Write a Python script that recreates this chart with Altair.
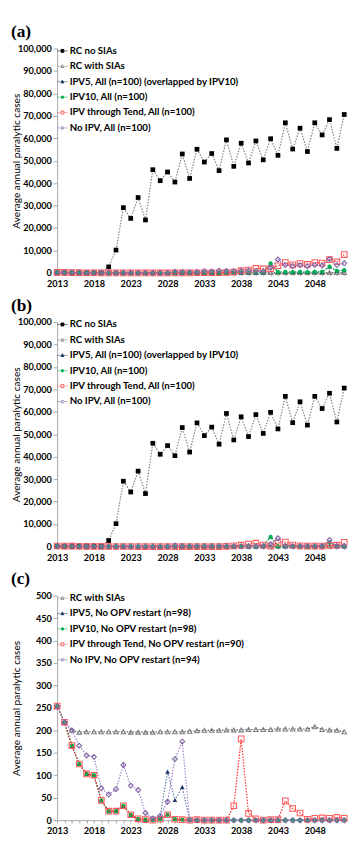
import altair as alt
import pandas as pd

YEARS = list(range(2013, 2053))

# ---------- data (2013 .. 2052) ----------
RC_NO_SIAS = [0, 0, 0, 0, 0, 0, 0, 2700, 10200, 29100, 24300, 33600, 23600, 46000, 41100, 45000,
              40500, 53000, 42100, 55100, 49400, 53200, 45600, 59300, 47500, 57800, 49000, 58800,
              50400, 59800, 52400, 66900, 55200, 64500, 54100, 66900, 61500, 68300, 55500, 70600]
RC_WITH_SIAS = [254, 218, 200, 196, 197, 197, 197, 197, 197, 197, 196, 196, 196, 196, 197, 197,
                197, 197, 198, 199, 200, 200, 200, 201, 201, 201, 202, 202, 202, 202, 203, 203,
                203, 203, 203, 208, 202, 201, 200, 197]

A_IPV5 = [254, 218, 166, 125, 103, 100, 44, 20, 20, 32, 12, 3, 1, 0, 2, 12, 2, 1, 0, 100,
          100, 100, 100, 100, 100, 150, 200, 200, 250, 4200, 400, 450, 400, 450, 400, 450,
          500, 2800, 900, 1200]
A_IPV10 = [254, 218, 166, 125, 103, 100, 44, 20, 20, 32, 12, 3, 1, 0, 2, 12, 2, 1, 0, 100,
           100, 100, 100, 100, 100, 150, 200, 200, 250, 4200, 400, 450, 400, 450, 400, 450,
           500, 2800, 900, 1200]
A_TEND = [254, 218, 166, 125, 103, 100, 44, 20, 20, 32, 12, 3, 1, 0, 2, 12, 2, 1, 0, 100,
          100, 100, 100, 200, 400, 1000, 1300, 2000, 1800, 1900, 3200, 4600, 3600, 4200, 3800,
          4600, 4400, 5900, 5000, 8200]
A_NOIPV = [254, 218, 200, 166, 144, 141, 71, 57, 69, 123, 77, 67, 16, 4, 10, 41, 500, 400,
           300, 400, 800, 700, 1000, 900, 800, 900, 1100, 900, 800, 2300, 6000, 3500, 3100,
           3400, 3000, 3500, 3300, 6200, 3500, 4300]

B_IPV5 = [254, 218, 166, 125, 103, 100, 44, 20, 20, 32, 12, 3, 1, 0, 2, 12, 2, 1, 0, 0,
          0, 0, 0, 0, 0, 50, 50, 50, 100, 4300, 100, 100, 100, 100, 100, 100, 200, 1900, 200, 100]
B_IPV10 = [254, 218, 166, 125, 103, 100, 44, 20, 20, 32, 12, 3, 1, 0, 2, 12, 2, 1, 0, 0,
           0, 0, 0, 0, 0, 50, 50, 50, 100, 4300, 100, 100, 100, 100, 100, 100, 200, 1900, 200, 100]
B_TEND = [254, 218, 166, 125, 103, 100, 44, 20, 20, 32, 12, 3, 1, 0, 2, 12, 2, 1, 0, 0,
          0, 0, 0, 100, 300, 600, 1100, 1500, 700, 200, 1600, 2000, 700, 300, 200, 200, 200,
          500, 600, 1900]
B_NOIPV = [254, 218, 200, 166, 144, 141, 71, 57, 69, 123, 77, 67, 16, 4, 10, 41, 500, 300,
           200, 200, 200, 200, 200, 200, 200, 200, 200, 200, 300, 1100, 3700, 300, 200, 200,
           200, 200, 300, 2900, 300, 300]

C_IPV5 = [254, 218, 166, 125, 103, 100, 44, 20, 20, 32, 12, 3, 1, 2, 8, 108, 45, 74, 1, 0,
          0, 0, 0, 0, 0, 0, 0, 0, 0, 0, 0, 0, 0, 0, 0, 0, 0, 0, 0, 0]
C_IPV10 = [254, 218, 166, 125, 103, 100, 44, 20, 20, 32, 12, 3, 1, 0, 2, 12, 2, 1, 0, 0,
           0, 0, 0, 0, 0, 0, 0, 0, 0, 0, 0, 0, 0, 0, 0, 0, 0, 0, 0, 0]
C_TEND = [254, 218, 166, 125, 103, 100, 44, 20, 20, 32, 12, 3, 1, 0, 2, 12, 2, 1, 0, 1,
          0, 0, 0, 0, 32, 181, 15, 3, 0, 1, 1, 43, 26, 16, 2, 4, 5, 4, 6, 4]
C_NOIPV = [254, 218, 200, 166, 144, 141, 71, 57, 69, 123, 77, 67, 16, 4, 10, 41, 136, 175,
           1, 0, 0, 0, 0, 0, 0, 0, 0, 0, 0, 0, 0, 0, 0, 0, 0, 0, 0, 0, 0, 0]

NAMES_AB = ["RC no SIAs", "RC with SIAs", "IPV5, All (n=100) (overlapped by IPV10)",
            "IPV10, All (n=100)", "IPV through Tend, All (n=100)", "No IPV, All (n=100)"]
NAMES_C = ["RC with SIAs", "IPV5, No OPV restart (n=98)", "IPV10, No OPV restart (n=98)",
           "IPV through Tend, No OPV restart (n=90)", "No IPV, No OPV restart (n=94)"]

Y_TICKS_AB = [0, 10000, 20000, 30000, 40000, 50000, 60000, 70000, 80000, 90000, 100000]
Y_TICKS_C = [0, 50, 100, 150, 200, 250, 300, 350, 400, 450, 500]
PANEL_LABELS = ["(a)", "(b)", "(c)"]

# ---------- styles ----------
FONT = "Lato"
DOTS = "M-1,0H-0.8M-0.6,0H-0.4M0.4,0H0.6M0.8,0H1"
STY = {
    "rcno": dict(line="#7f7f7f", shape="square", filled=True, color="#000000", size=24,
                 path=DOTS + "M-0.3,-0.3H0.3V0.3H-0.3Z", lfill="#000000"),
    "rcw": dict(line="#595959", shape="triangle-up", filled=False, color="#7f7f7f", size=22,
                path=DOTS + "M0,-0.33L0.3,0.25H-0.3Z", lfill="transparent"),
    "ipv5": dict(line="#5b7ba6", shape="triangle-up", filled=True, color="#1f3864", size=24,
                 path=DOTS + "M0,-0.33L0.3,0.25H-0.3Z", lfill="#1f3864"),
    "ipv10": dict(line="#00b050", shape="circle", filled=True, color="#00b050", size=20,
                  path=DOTS + "M-0.26,0A0.26,0.26,0,1,0,0.26,0A0.26,0.26,0,1,0,-0.26,0Z",
                  lfill="#00b050"),
    "tend": dict(line="#ff2020", shape="square", filled=False, color="#ff5b5b", size=34,
                 path=DOTS + "M-0.3,-0.3H0.3V0.3H-0.3Z", lfill="transparent"),
    "noipv": dict(line="#9a7fc8", shape="diamond", filled=False, color="#8064a2", size=26,
                  path=DOTS + "M0,-0.34L0.28,0L0,0.34L-0.28,0Z", lfill="transparent"),
}

W, H = 298, 233


def panel(label, names, values, keys, ymax, yticks, yfmt):
    rows = []
    for n, vals in zip(names, values):
        for yr, v in zip(YEARS, vals):
            rows.append({"year": yr, "value": v, "series": n})
    df = pd.DataFrame(rows)

    xenc = alt.X("year:Q", scale=alt.Scale(domain=[2013, 2052], nice=False, zero=False),
                 axis=alt.Axis(values=YEARS, format="d", title=None, grid=False,
                               labelExpr="(datum.value - 2013) % 5 == 0 ? datum.label : ''",
                               labelFlush=False, labelOverlap=False, tickSize=3,
                               tickColor="#a6a6a6", domainColor="#a6a6a6",
                               labelFont=FONT, labelFontWeight="bold", labelFontSize=9.5,
                               labelColor="#000000", labelPadding=3))
    yenc = alt.Y("value:Q", scale=alt.Scale(domain=[0, ymax], nice=False),
                 axis=alt.Axis(values=yticks, format=yfmt, grid=False,
                               title="Average annual paralytic cases", titleFont=FONT,
                               titleFontSize=10.5, titleFontWeight="normal", titleColor="#000000",
                               titleX=-37, tickSize=4, tickColor="#a6a6a6",
                               domainColor="#a6a6a6", labelFont=FONT, labelFontWeight="bold",
                               labelFontSize=9.5, labelColor="#000000", labelPadding=2))
    layers = []
    for n, k in zip(names, keys):
        s = STY[k]
        base = alt.Chart(df).transform_filter(alt.datum.series == n)
        layers.append(base.mark_line(color=s["line"], strokeDash=[1.5, 1.5], strokeWidth=1.2)
                      .encode(x=xenc, y=yenc))
        layers.append(base.mark_point(shape=s["shape"], size=s["size"], filled=s["filled"],
                                      color=s["color"], opacity=1, strokeWidth=1.1)
                      .encode(x=xenc, y=yenc))
    leg_props = dict(title=None, orient="none", legendX=0, legendY=-3, labelFont=FONT,
                     labelFontWeight="bold", labelFontSize=10, labelColor="#000000",
                     labelLimit=400, symbolSize=100, symbolStrokeWidth=1, rowPadding=5,
                     labelOffset=2, padding=0, direction="vertical")
    legend_layer = alt.Chart(df).transform_filter("datum.value < -1").mark_point(
        opacity=1, size=100, strokeWidth=1).encode(
        x=xenc, y=yenc,
        shape=alt.Shape("series:N", scale=alt.Scale(domain=names, range=[STY[k]["path"] for k in keys]),
                        legend=alt.Legend(**leg_props)),
        stroke=alt.Stroke("series:N", scale=alt.Scale(domain=names, range=[STY[k]["color"] for k in keys]),
                          legend=alt.Legend(**leg_props)),
        fill=alt.Fill("series:N", scale=alt.Scale(domain=names, range=[STY[k]["lfill"] for k in keys]),
                      legend=alt.Legend(**leg_props)),
    )
    layers.append(legend_layer)
    tag = alt.Chart(pd.DataFrame({"t": [label]})).mark_text(
        font="Liberation Serif", fontWeight="bold", fontSize=18, align="left",
        baseline="top", color="#000000").encode(
        text="t:N", x=alt.value(-48), y=alt.value(-26))
    layers.append(tag)
    return alt.layer(*layers).properties(width=W, height=H)


KEYS_AB = ["rcno", "rcw", "ipv5", "ipv10", "tend", "noipv"]
KEYS_C = ["rcw", "ipv5", "ipv10", "tend", "noipv"]

pa = panel(PANEL_LABELS[0], NAMES_AB, [RC_NO_SIAS, RC_WITH_SIAS, A_IPV5, A_IPV10, A_TEND, A_NOIPV],
           KEYS_AB, 100000, Y_TICKS_AB, ",d")
pb = panel(PANEL_LABELS[1], NAMES_AB, [RC_NO_SIAS, RC_WITH_SIAS, B_IPV5, B_IPV10, B_TEND, B_NOIPV],
           KEYS_AB, 100000, Y_TICKS_AB, ",d")
pc = panel(PANEL_LABELS[2], NAMES_C, [RC_WITH_SIAS, C_IPV5, C_IPV10, C_TEND, C_NOIPV],
           KEYS_C, 500, Y_TICKS_C, "d")

chart = alt.vconcat(pa, pb, pc, spacing=9).resolve_scale(
    x="independent", y="independent", shape="independent", stroke="independent",
    fill="independent").resolve_legend(shape="independent", stroke="independent",
                                       fill="independent").properties(
    padding={"left": 3, "top": 0, "right": 0, "bottom": 0},
    background="white").configure_view(stroke=None)

chart.save("out.html", embed_options={"renderer": "svg", "actions": False})
